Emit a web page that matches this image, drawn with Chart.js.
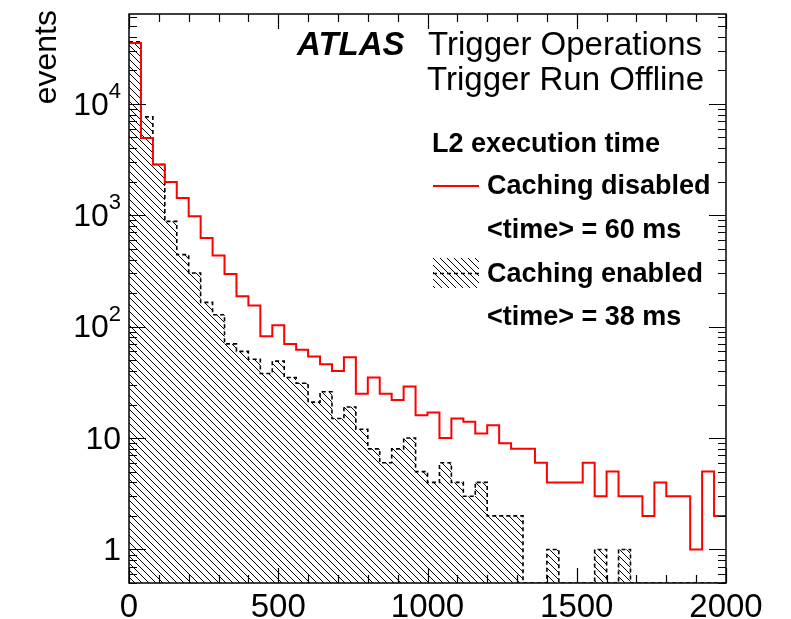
<!DOCTYPE html>
<html><head><meta charset="utf-8">
<script src="https://cdn.jsdelivr.net/npm/chart.js@4/dist/chart.umd.min.js"></script>
<style>html,body{margin:0;padding:0;background:#fff}#wrap{width:791px;height:619px;position:relative}</style>
</head><body><div id="wrap"><canvas id="c" width="791" height="619"></canvas></div>
<script>
// ---- data ----
const binLow = [0,40,80,120,160,200,240,280,320,360,400,440,480,520,560,600,640,680,720,760,
  800,840,880,920,960,1000,1040,1080,1120,1160,1200,1240,1280,1320,1360,1400,1440,1480,1520,1560,
  1600,1640,1680,1720,1760,1800,1840,1880,1920,1960];
const binWidth = 40;
const cachingDisabled = [35200,4940,2850,1990,1430,977,625,434,297,187,
  155,82,103,70,62,54,46,40,53,25,
  35,25,22,29,16,17,10,15,14,11,
  13,9,8,8,6,4,4,4,6,3,
  5,3,3,2,4,3,3,1,5,2];
const cachingEnabled = [36000,7630,2850,880,443,303,165,128,70,60,
  51,38,49,35,31,21,26,15,19,12,
  8,6,8,10,5,4,6,4,3,4,
  2,2,2,0,0,1,0,0,0,1,
  0,1,0,0,0,0,0,0,0,0];
const xTickValues = [0,500,1000,1500,2000];
const xTickLabels = ['0','500','1000','1500','2000'];
const yTickValues = [1,10,100,1000,10000];
const yTickBase = ['1','10','10','10','10'];
const yTickExp  = ['','','2','3','4'];
const yTitle = 'events';
const titleLines = ['Trigger Operations','Trigger Run Offline'];
const experiment = 'ATLAS';
const legendHeader = 'L2 execution time';
const legendEntries = [
  {label:'Caching disabled', sub:'<time> = 60 ms'},
  {label:'Caching enabled',  sub:'<time> = 38 ms'}
];
const yMin = 0.5, yMax = 64000, xMin = 0, xMax = 2000;

// ---- helpers ----
const canvas = document.getElementById('c');
const mainCtx = canvas.getContext('2d');
function makeHatch(){
  const s = 7;
  const c = document.createElement('canvas'); c.width = s; c.height = s;
  const g = c.getContext('2d');
  g.strokeStyle = '#000'; g.lineWidth = 1;
  g.beginPath();
  g.moveTo(-1,-1); g.lineTo(s+1,s+1);
  g.moveTo(-1,s-1); g.lineTo(1,s+1);
  g.moveTo(s-1,-1); g.lineTo(s+1,1);
  g.stroke();
  return mainCtx.createPattern(c,'repeat');
}
const hatch = makeHatch();
function steps(vals){
  const pts = binLow.map((x,i)=>({x:x, y:Math.max(vals[i], yMin)}));
  pts.push({x: binLow[binLow.length-1] + binWidth, y: Math.max(vals[vals.length-1], yMin)});
  return pts;
}
const FONT = '"Liberation Sans", Arial, Helvetica, sans-serif';

const decor = {
  id: 'decor',
  afterDatasetsDraw(chart){
    const ctx = chart.ctx, a = chart.chartArea;
    const xs = chart.scales.x, ys = chart.scales.y;
    ctx.save();
    // frame
    ctx.strokeStyle = '#000'; ctx.lineWidth = 1.5;
    ctx.strokeRect(a.left, a.top, a.right - a.left, a.bottom - a.top);
    // x ticks (top & bottom, inward)
    ctx.lineWidth = 1.2;
    ctx.beginPath();
    for (let v = xMin; v <= xMax; v += 100){
      const p = Math.round(xs.getPixelForValue(v)) + 0.5;
      const L = (v % 500 === 0) ? 15 : 8;
      ctx.moveTo(p, a.bottom); ctx.lineTo(p, a.bottom - L);
      ctx.moveTo(p, a.top); ctx.lineTo(p, a.top + L);
    }
    // y ticks (left & right)
    for (let d = 0.1; d <= yMax; d *= 10){
      for (let m = 1; m <= 9; m++){
        const v = d*m;
        if (v < yMin - 1e-9 || v > yMax) continue;
        const p = Math.round(ys.getPixelForValue(v)) + 0.5;
        const L = (m === 1) ? 17 : 8;
        ctx.moveTo(a.left, p); ctx.lineTo(a.left + L, p);
        ctx.moveTo(a.right, p); ctx.lineTo(a.right - L, p);
      }
    }
    ctx.stroke();
    // x tick labels
    ctx.fillStyle = '#000';
    ctx.font = '33px ' + FONT;
    ctx.textAlign = 'center'; ctx.textBaseline = 'alphabetic';
    xTickValues.forEach((v,i)=>{
      ctx.fillText(xTickLabels[i], xs.getPixelForValue(v), 617);
    });
    // y tick labels
    yTickValues.forEach((v,i)=>{
      const p = ys.getPixelForValue(v);
      const right = 121;
      ctx.textBaseline = 'middle';
      if (yTickExp[i]){
        ctx.font = '22px ' + FONT;
        const ew = ctx.measureText(yTickExp[i]).width;
        ctx.textAlign = 'right';
        ctx.fillText(yTickExp[i], right, p - 12);
        ctx.font = '32px ' + FONT;
        ctx.fillText(yTickBase[i], right - ew, p + 2);
      } else {
        ctx.font = '32px ' + FONT;
        ctx.textAlign = 'right';
        ctx.fillText(yTickBase[i], right, p + 2);
      }
    });
    // y title
    ctx.save();
    ctx.translate(56, 10);
    ctx.rotate(-Math.PI/2);
    ctx.font = '32px ' + FONT;
    ctx.textAlign = 'right'; ctx.textBaseline = 'alphabetic';
    ctx.fillText(yTitle, 0, 0);
    ctx.restore();
    // title block
    ctx.textBaseline = 'alphabetic';
    ctx.font = 'italic bold 33px ' + FONT;
    ctx.textAlign = 'left';
    ctx.fillText(experiment, 297, 55);
    ctx.font = '33px ' + FONT;
    ctx.textAlign = 'right';
    ctx.fillText(titleLines[0], 702, 55);
    ctx.fillText(titleLines[1], 704, 90);
    // legend
    ctx.font = 'bold 27px ' + FONT;
    ctx.textAlign = 'left';
    ctx.fillText(legendHeader, 432, 152);
    ctx.fillText(legendEntries[0].label, 487, 194);
    ctx.fillText(legendEntries[0].sub, 487, 238);
    ctx.fillText(legendEntries[1].label, 487, 282);
    ctx.fillText(legendEntries[1].sub, 487, 325);
    // legend markers
    ctx.strokeStyle = '#ff0000'; ctx.lineWidth = 2;
    ctx.beginPath(); ctx.moveTo(433, 186); ctx.lineTo(479, 186); ctx.stroke();
    ctx.fillStyle = hatch;
    ctx.fillRect(433, 258, 46, 30);
    ctx.strokeStyle = '#000'; ctx.lineWidth = 1.5; ctx.setLineDash([4,3]);
    ctx.beginPath(); ctx.moveTo(433, 273.5); ctx.lineTo(479, 273.5); ctx.stroke();
    ctx.setLineDash([]);
    ctx.restore();
  }
};

new Chart(canvas, {
  type: 'line',
  data: {
    datasets: [
      {
        label: legendEntries[0].label,
        data: steps(cachingDisabled),
        stepped: true,
        borderColor: '#ff0000',
        borderWidth: 2,
        pointRadius: 0,
        fill: false
      },
      {
        label: legendEntries[1].label,
        data: steps(cachingEnabled),
        stepped: true,
        borderColor: '#000',
        borderWidth: 1.6,
        borderDash: [4,3],
        pointRadius: 0,
        backgroundColor: hatch,
        fill: 'start'
      }
    ]
  },
  options: {
    responsive: false,
    animation: false,
    devicePixelRatio: 1,
    layout: {padding: {left: 129, right: 65, top: 14, bottom: 36}},
    plugins: {legend: {display: false}, tooltip: {enabled: false}},
    scales: {
      x: {type: 'linear', min: xMin, max: xMax, display: false},
      y: {type: 'logarithmic', min: yMin, max: yMax, display: false}
    }
  },
  plugins: [decor]
});
</script>
</body></html>
